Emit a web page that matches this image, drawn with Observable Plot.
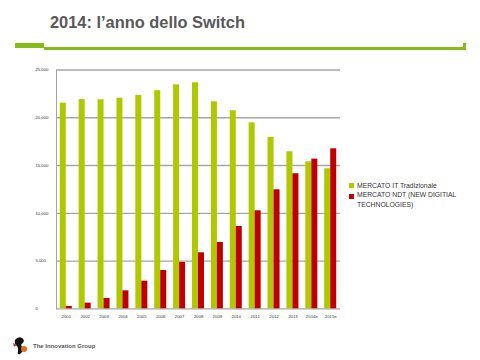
<!DOCTYPE html>
<html>
<head>
<meta charset="utf-8">
<script src="https://cdn.jsdelivr.net/npm/d3@7"></script>
<script src="https://cdn.jsdelivr.net/npm/@observablehq/plot@0.6"></script>
<style>
  html, body { margin: 0; padding: 0; background: #fff; }
  #page { position: relative; width: 480px; height: 360px; overflow: hidden; font-family: "Liberation Sans", Arial, sans-serif; }
  #chart { position: absolute; left: 0; top: 0; }
  #title { position: absolute; left: 50px; top: 13px; font-size: 16.4px; font-weight: bold; color: #595959; white-space: nowrap; }
  .bar { position: absolute; background: #86bc1a; }
  #legend { position: absolute; left: 349px; top: 181px; font-size: 6.8px; color: #333; line-height: 9.3px; }
  .item { position: relative; padding-left: 8px; }
  .sw { position: absolute; left: 0; width: 5px; height: 5px; }
  #footer { position: absolute; left: 33px; top: 343px; font-size: 6px; font-weight: bold; color: #555; white-space: nowrap; }
  #logo { position: absolute; left: 12px; top: 336px; }
</style>
</head>
<body>
<div id="page">
  <div id="chart"></div>
  <div id="title">2014: l’anno dello Switch</div>
  <div class="bar" style="left:15px; top:43px; width:29px; height:5px;"></div>
  <div class="bar" style="left:44px; top:47px; width:422px; height:3px;"></div>
  <div class="bar" style="left:463px; top:43px; width:3px; height:6px;"></div>
  <div id="legend"></div>
  <svg id="logo" width="20" height="20" viewBox="0 0 20 20">
    <path d="M3 4 Q6 0 10 2 Q13 4 11 7 Q8 8 10 11 Q12 15 8 18 Q5 19 6 15 Q7 12 5 10 Q2 8 3 4 Z" fill="#111"/>
    <circle cx="12" cy="13" r="3" fill="#e0701a"/>
    <path d="M1 7 L5 9 L2 11 Z" fill="#c33"/>
  </svg>
  <div id="footer">The Innovation Group</div>
</div>
<script>
const years = ["2001","2002","2003","2004","2005","2006","2007","2008","2009","2010","2011","2012","2013","2014e","2015e"];
const mercatoIT = [21530, 21900, 21880, 22050, 22330, 22830, 23450, 23660, 21670, 20730, 19470, 17940, 16440, 15390, 14660];
const mercatoNDT = [250, 590, 1080, 1880, 2890, 4010, 4850, 5860, 6940, 8620, 10260, 12460, 14140, 15670, 16750];
const yTicks = [0, 5000, 10000, 15000, 20000, 25000];
const seriesNames = ["MERCATO IT Tradizionale", "MERCATO NDT (NEW DIGITIAL TECHNOLOGIES)"];
const seriesColors = ["#b0c800", "#c00000"];

const itData = years.map((y, i) => ({year: y, value: mercatoIT[i]}));
const ndtData = years.map((y, i) => ({year: y, value: mercatoNDT[i]}));

const half = 6.0;
const chart = Plot.plot({
  width: 480,
  height: 360,
  marginLeft: 56,
  marginRight: 140,
  marginTop: 69.5,
  marginBottom: 51.7,
  style: {background: "transparent", fontFamily: "Liberation Sans, Arial, sans-serif"},
  x: {domain: years, paddingInner: 0.364, paddingOuter: 0.2, round: false, label: null},
  y: {domain: [0, 25000], label: null},
  marks: [
    Plot.ruleY(yTicks, {stroke: "#a6a6a6", strokeWidth: 1.3}),
    Plot.frame({anchor: "left", stroke: "#a6a6a6", strokeWidth: 1}),
    Plot.barY(itData, {x: "year", y: "value", fill: seriesColors[0], insetLeft: 0, insetRight: half}),
    Plot.barY(ndtData, {x: "year", y: "value", fill: seriesColors[1], insetLeft: half, insetRight: 0}),
    Plot.axisY({ticks: yTicks, tickFormat: d3.format(","), tickSize: 0, tickPadding: 21, textAnchor: "start", fontSize: 4.2, fill: "#333", label: null}),
    Plot.axisX({tickSize: 0, tickPadding: 6, fontSize: 4.3, fill: "#333", label: null})
  ]
});
document.getElementById("chart").appendChild(chart);

const legend = document.getElementById("legend");
seriesNames.forEach((name, i) => {
  const item = document.createElement("div");
  item.className = "item";
  const sw = document.createElement("span");
  sw.className = "sw";
  sw.style.background = seriesColors[i];
  sw.style.top = (i === 0 ? 2 : 4) + "px";
  item.appendChild(sw);
  const txt = document.createElement("span");
  txt.textContent = name;
  item.appendChild(txt);
  if (i === 1) item.style.width = "100px";
  legend.appendChild(item);
});
</script>
</body>
</html>
